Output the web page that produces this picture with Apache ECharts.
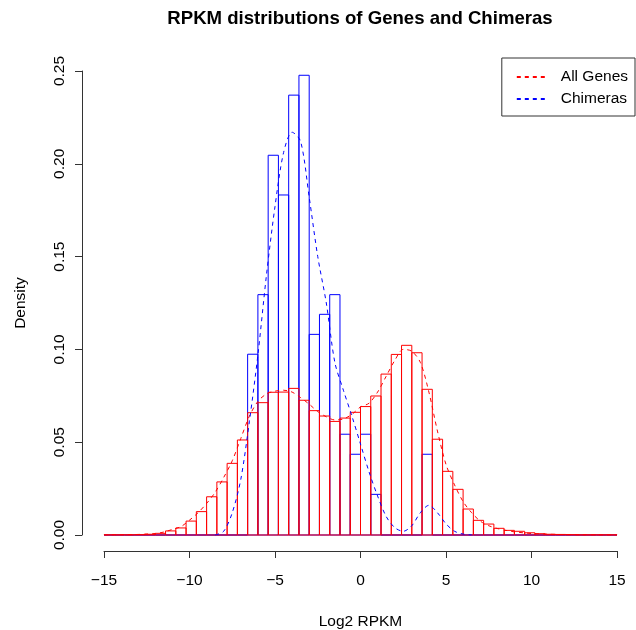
<!DOCTYPE html>
<html>
<head>
<meta charset="utf-8">
<script src="https://cdn.jsdelivr.net/npm/echarts@6/dist/echarts.min.js"></script>
<style>
  html, body { margin: 0; padding: 0; background: #fff; }
  #chart { width: 636px; height: 630px; }
</style>
</head>
<body>
<div id="chart"></div>
<script>
// histogram breaks (50 bins of 0.6 from -15 to 15)
var breaks = [-15, -14.4, -13.8, -13.2, -12.6, -12, -11.4, -10.8, -10.2, -9.6,
    -9, -8.4, -7.8, -7.2, -6.6, -6, -5.4, -4.8, -4.2, -3.6,
    -3, -2.4, -1.8, -1.2, -0.6, 0, 0.6, 1.2, 1.8, 2.4,
    3, 3.6, 4.2, 4.8, 5.4, 6, 6.6, 7.2, 7.8, 8.4,
    9, 9.6, 10.2, 10.8, 11.4, 12, 12.6, 13.2, 13.8, 14.4, 15];

// density per bin, all genes
var genesHist = [0.0001, 0.0001, 0.0001, 0.0002, 0.0004, 0.0009, 0.0022, 0.0038, 0.0075, 0.0126,
    0.0206, 0.0286, 0.0386, 0.0512, 0.0659, 0.0713, 0.0769, 0.0770, 0.0790, 0.0726,
    0.0670, 0.0641, 0.0612, 0.0630, 0.0661, 0.0692, 0.0749, 0.0867, 0.0973, 0.1022,
    0.0982, 0.0785, 0.0516, 0.0343, 0.0246, 0.0140, 0.0079, 0.0059, 0.0036, 0.0025,
    0.0020, 0.0012, 0.0007, 0.0004, 0.0003, 0.0002, 0.0001, 0.0001, 0.0001, 0.0001];

// density per bin, chimeras
var chimeraHist = [0, 0, 0, 0, 0, 0, 0, 0, 0, 0,
    0, 0, 0, 0, 0.0974, 0.1295, 0.2046, 0.1832, 0.2370, 0.2477,
    0.1081, 0.1189, 0.1295, 0.0543, 0.0435, 0.0543, 0.0219, 0, 0, 0,
    0, 0.0435, 0, 0, 0, 0, 0, 0, 0, 0,
    0, 0, 0, 0, 0, 0, 0, 0, 0, 0];

// kernel density curves
var genesDensX = [-15, -14, -13, -12, -11.5, -11, -10.5, -10, -9.5, -9, -8.5, -8, -7.5, -7, -6.5, -6,
    -5.5, -5, -4.5, -4, -3.5, -3, -2.5, -2, -1.5, -1, -0.5, 0, 0.5, 1, 1.5, 2, 2.5, 3, 3.5, 4,
    4.5, 5, 5.5, 6, 6.5, 7, 7.5, 8, 8.5, 9, 9.5, 10, 11, 12, 13, 14, 15];
var genesDensY = [0, 0.0001, 0.0003, 0.0008, 0.0016, 0.003, 0.0045, 0.008, 0.012, 0.017, 0.023, 0.031, 0.040, 0.052, 0.064, 0.072,
    0.076, 0.0775, 0.078, 0.077, 0.074, 0.0705, 0.0665, 0.0637, 0.062, 0.0625, 0.065, 0.069, 0.071, 0.077, 0.0855, 0.094, 0.100, 0.099, 0.093, 0.077,
    0.056, 0.038, 0.027, 0.018, 0.012, 0.0075, 0.005, 0.0035, 0.0025, 0.0017, 0.0012, 0.0008, 0.0004, 0.0002, 0.0001, 0, 0];

var chimeraDensX = [-8.5, -8, -7.5, -7, -6.5, -6, -5.5, -5, -4.5, -4, -3.5, -3, -2.5, -2, -1.5, -1,
    -0.5, 0, 0.5, 1, 1.5, 2, 2.5, 3, 3.5, 4, 4.5, 5, 5.5, 6, 6.5];
var chimeraDensY = [0, 0.002, 0.012, 0.030, 0.061, 0.097, 0.140, 0.177, 0.206, 0.217, 0.212, 0.182, 0.150, 0.125, 0.093, 0.078,
    0.064, 0.049, 0.034, 0.021, 0.010, 0.004, 0.002, 0.005, 0.012, 0.016, 0.012, 0.006, 0.002, 0.0005, 0];

var xTicks = [-15, -10, -5, 0, 5, 10, 15];

var FONT = 'Liberation Sans, Arial, Helvetica, sans-serif';
var AXIS = '#333';

function histRows(vals) {
    return vals.map(function (v, i) { return [breaks[i], breaks[i + 1], v]; });
}

function pairRows(xs, ys) {
    return xs.map(function (x, i) { return [x, ys[i]]; });
}

// open rectangles like R's hist(border=...)
function histRenderer(color) {
    return function (params, api) {
        var p0 = api.coord([api.value(0), 0]);
        var p1 = api.coord([api.value(1), api.value(2)]);
        return {
            type: 'rect',
            shape: { x: p0[0], y: p1[1], width: p1[0] - p0[0], height: p0[1] - p1[1] },
            style: { fill: 'none', stroke: color, lineWidth: 1 }
        };
    };
}

var chart = echarts.init(document.getElementById('chart'));

var option = {
    backgroundColor: '#fff',
    animation: false,
    textStyle: { fontFamily: FONT },
    grid: { left: 104, right: 19, top: 71, bottom: 95, containLabel: false, outerBoundsMode: 'none' },
    graphic: [{
        type: 'text',
        x: 360, y: 18.5,
        style: {
            text: 'RPKM distributions of Genes and Chimeras',
            align: 'center', verticalAlign: 'middle',
            font: 'bold 18.6px ' + FONT, fill: '#000'
        }
    }],
    legend: {
        right: 1, top: 58,
        orient: 'vertical',
        data: ['All Genes', 'Chimeras'],
        backgroundColor: '#fff',
        borderColor: AXIS, borderWidth: 1, borderRadius: 0,
        padding: [11, 7, 9, 14],
        itemWidth: 29, itemHeight: 14, itemGap: 6,
        itemStyle: { opacity: 0 },
        textStyle: { fontSize: 15.5, color: '#000', fontFamily: FONT, padding: [0, 0, 0, 10] }
    },
    xAxis: {
        type: 'value',
        min: -15, max: 15, interval: 5,
        offset: 16,
        name: 'Log2 RPKM', nameLocation: 'middle', nameGap: 63,
        nameTextStyle: { fontSize: 15.5, color: '#000', fontFamily: FONT },
        axisLine: { show: true, onZero: false, lineStyle: { color: AXIS, width: 1 } },
        axisTick: { show: true, length: 7, lineStyle: { color: AXIS } },
        axisLabel: {
            fontSize: 15.5, color: '#000', margin: 22,
            formatter: function (v) { return xTicks.indexOf(v) >= 0 ? String(v).replace('-', '\u2212') : ''; }
        },
        splitLine: { show: false }
    },
    yAxis: {
        type: 'value',
        min: 0, max: 0.25, interval: 0.05,
        offset: 22,
        name: 'Density', nameLocation: 'middle', nameGap: 53,
        nameTextStyle: { fontSize: 15.5, color: '#000', fontFamily: FONT },
        axisLine: { show: true, onZero: false, lineStyle: { color: AXIS, width: 1 } },
        axisTick: { show: true, length: 7, lineStyle: { color: AXIS } },
        axisLabel: {
            fontSize: 15.5, color: '#000', rotate: 90, margin: 14,
            formatter: function (v) { return v.toFixed(2); }
        },
        splitLine: { show: false }
    },
    series: [{
        name: 'Chimeras hist',
        type: 'custom',
        renderItem: histRenderer('#0000ff'),
        encode: { x: [0, 1], y: 2 },
        data: histRows(chimeraHist),
        z: 2
    }, {
        name: 'All Genes hist',
        type: 'custom',
        renderItem: histRenderer('#ff0000'),
        encode: { x: [0, 1], y: 2 },
        data: histRows(genesHist),
        z: 3
    }, {
        name: 'All Genes',
        type: 'line',
        data: pairRows(genesDensX, genesDensY),
        smooth: 0.3,
        symbol: 'none',
        color: '#ff0000',
        lineStyle: { color: '#ff0000', width: 1, type: [4, 4] },
        z: 4
    }, {
        name: 'Chimeras',
        type: 'line',
        data: pairRows(chimeraDensX, chimeraDensY),
        smooth: 0.3,
        symbol: 'none',
        color: '#0000ff',
        lineStyle: { color: '#0000ff', width: 1, type: [4, 4] },
        z: 5
    }]
};

chart.setOption(option);
</script>
</body>
</html>
